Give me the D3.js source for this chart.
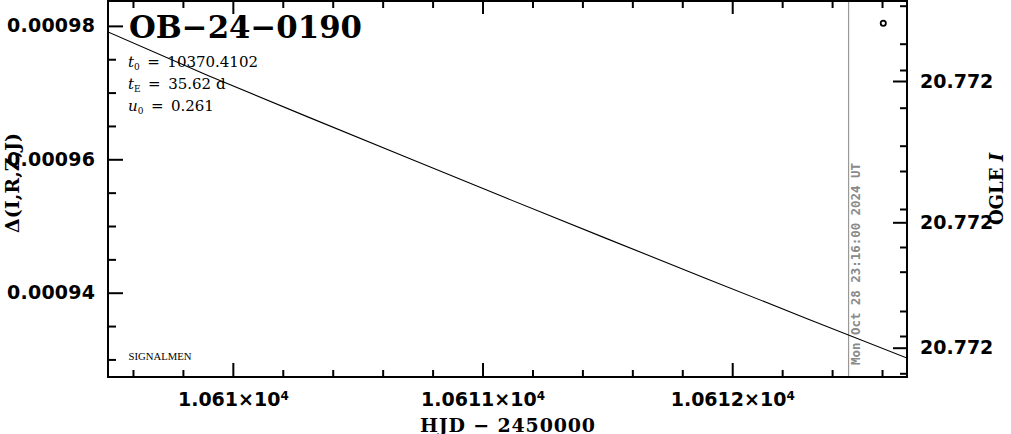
<!DOCTYPE html>
<html>
<head>
<meta charset="utf-8">
<script src="https://cdn.jsdelivr.net/npm/d3@7"></script>
<style>
  html, body { margin: 0; padding: 0; background: #fff; }
  svg { display: block; }
</style>
</head>
<body>
<svg id="chart" width="1011" height="434"></svg>
<script>
// ---------- data ----------
const curveHJD   = [10609.5, 10609.9, 10610.3, 10610.7, 10611.1, 10611.5, 10611.9, 10612.3, 10612.7];
const curveDelta = [0.0009791, 0.00097256, 0.00096636, 0.00096022, 0.00095412, 0.00094807, 0.00094207, 0.00093611, 0.0009302];

const oglePointHJD = [10612.605];
const oglePointMag = [20.7715223];

const xDomain = [10609.5, 10612.7];
const yDomain = [0.000927365, 0.00098373];
const magDomain = [20.7715, 20.771876];

const xMajorTicks = [10610, 10611, 10612];
const yMajorTicks = [0.00094, 0.00096, 0.00098];
const magMajorTicks = [20.77158, 20.7717213, 20.7718467];
const magMinorTicks = [20.7715047, 20.7715427, 20.771569, 20.7716067, 20.7716447, 20.77167,
                       20.771708, 20.771746, 20.7717707, 20.77181, 20.771835, 20.7718723];

const nowHJD = 10612.466;
const nowLabel = "Mon Oct 28 23:16:00 2024 UT";
const eventName = "OB\u221224\u22120190";
const paramNames = ["t", "t", "u"];
const paramSubs = ["0", "E", "0"];
const paramValues = ["10370.4102", "35.62 d", "0.261"];
const xLabel = "HJD \u2212 2450000";
const yLabel = "\u0394(I,R,Z,J)";
const yRightLabel = ["OGLE ", "I"];
const footLabel = "SIGNALMEN";

// ---------- layout ----------
const L = 108, R = 907, T = 1, B = 377;
const svg = d3.select("#chart");

const x = d3.scaleLinear().domain(xDomain).range([L, R]);
const y = d3.scaleLinear().domain(yDomain).range([B, T]);
const yR = d3.scaleLinear().domain(magDomain).range([T, B]);

const xMinorTicks = d3.range(10609.6, 10612.65, 0.2).filter(v => Math.abs(v - Math.round(v)) > 1e-6);
const yMinorTicks = d3.range(0.00093, 0.000984, 0.000005).filter(v => yMajorTicks.every(m => Math.abs(m - v) > 1e-9));

const tickFont = "'DejaVu Sans', sans-serif";

function styleAxis(g) {
  g.select(".domain").remove();
  g.selectAll(".tick line").attr("stroke", "#000").attr("stroke-width", 2);
  g.selectAll(".tick text").attr("fill", "#000")
    .attr("font-family", tickFont).attr("font-weight", "bold").attr("font-size", "19px");
}

// clip
svg.append("defs").append("clipPath").attr("id", "clip")
  .append("rect").attr("x", L).attr("y", T).attr("width", R - L).attr("height", B - T);

// now line
svg.append("line")
  .attr("x1", x(nowHJD)).attr("x2", x(nowHJD)).attr("y1", T).attr("y2", B)
  .attr("stroke", "#999").attr("stroke-width", 1.2);
svg.append("text")
  .attr("transform", `translate(${x(nowHJD) + 11},365) rotate(-90)`)
  .attr("font-family", "'DejaVu Sans Mono', monospace").attr("font-weight", "bold")
  .attr("font-size", "12.5px").attr("fill", "#8a8a8a")
  .attr("textLength", 202).attr("lengthAdjust", "spacingAndGlyphs")
  .text(nowLabel);

// curve
const line = d3.line().x((d, i) => x(curveHJD[i])).y(d => y(d));
svg.append("path").datum(curveDelta)
  .attr("clip-path", "url(#clip)")
  .attr("d", line).attr("fill", "none").attr("stroke", "#000").attr("stroke-width", 1.1);

// OGLE point
svg.selectAll("circle.ogle").data(oglePointHJD).enter().append("circle")
  .attr("class", "ogle")
  .attr("cx", d => x(d)).attr("cy", (d, i) => yR(oglePointMag[i])).attr("r", 2.6)
  .attr("fill", "#fff").attr("stroke", "#000").attr("stroke-width", 1.8);

// axes bottom
const fmtMant = d3.format(".4~f");
svg.append("g").attr("transform", `translate(0,${B})`)
  .call(d3.axisBottom(x).tickValues(xMinorTicks).tickSize(-7).tickFormat(""))
  .call(styleAxis);
const gxb = svg.append("g").attr("transform", `translate(0,${B})`)
  .call(d3.axisBottom(x).tickValues(xMajorTicks).tickSize(-14).tickPadding(16)
        .tickFormat(d => fmtMant(d / 1e4)))
  .call(styleAxis);
gxb.selectAll(".tick text").each(function (d) {
  const t = d3.select(this);
  t.text(null);
  t.append("tspan").text(fmtMant(d / 1e4) + "\u00d710");
  t.append("tspan").attr("dy", "-0.5em").attr("font-size", "12px").text("4");
});

// axes top
svg.append("g").attr("transform", `translate(0,${T})`)
  .call(d3.axisTop(x).tickValues(xMinorTicks).tickSize(-7).tickFormat(""))
  .call(styleAxis);
svg.append("g").attr("transform", `translate(0,${T})`)
  .call(d3.axisTop(x).tickValues(xMajorTicks).tickSize(-13).tickFormat(""))
  .call(styleAxis);

// left axis
svg.append("g").attr("transform", `translate(${L},0)`)
  .call(d3.axisLeft(y).tickValues(yMinorTicks).tickSize(-8).tickFormat(""))
  .call(styleAxis);
svg.append("g").attr("transform", `translate(${L},0)`)
  .call(d3.axisLeft(y).tickValues(yMajorTicks).tickSize(-15).tickPadding(13)
        .tickFormat(d3.format(".5f")))
  .call(styleAxis)
  .call(g => g.selectAll(".tick text").attr("textLength", 88).attr("lengthAdjust", "spacing"));

// right axis
svg.append("g").attr("transform", `translate(${R},0)`)
  .call(d3.axisRight(yR).tickValues(magMinorTicks).tickSize(-7).tickFormat(""))
  .call(styleAxis);
svg.append("g").attr("transform", `translate(${R},0)`)
  .call(d3.axisRight(yR).tickValues(magMajorTicks).tickSize(-14).tickPadding(13)
        .tickFormat(d3.format(".3f")))
  .call(styleAxis);

// frame
svg.append("rect").attr("x", L).attr("y", T).attr("width", R - L).attr("height", B - T)
  .attr("fill", "none").attr("stroke", "#000").attr("stroke-width", 2);

// title
svg.append("text").attr("x", 129).attr("y", 37.5)
  .attr("font-family", "'DejaVu Serif', serif").attr("font-weight", "bold").attr("font-size", "31px")
  .attr("textLength", 233).attr("lengthAdjust", "spacingAndGlyphs")
  .attr("fill", "#000").text(eventName);

// parameters
const serif = "'DejaVu Serif', serif";
paramNames.forEach((n, i) => {
  const t = svg.append("text").attr("x", 128).attr("y", 66.5 + i * 22.3)
    .attr("font-family", serif).attr("font-size", "15px").attr("fill", "#000");
  t.append("tspan").attr("font-style", "italic").text(n);
  t.append("tspan").attr("font-size", "9px").attr("dy", "3").text(paramSubs[i]);
  t.append("tspan").attr("dy", "-3").text("\u2002=\u2002" + paramValues[i]);
});

// footer
svg.append("text").attr("x", 128.5).attr("y", 359.5)
  .attr("font-family", "'Liberation Serif', serif").attr("font-size", "11px")
  .attr("textLength", 63).attr("lengthAdjust", "spacingAndGlyphs")
  .attr("fill", "#000").text(footLabel);

// x label
svg.append("text").attr("x", (L + R) / 2).attr("y", 431.5).attr("text-anchor", "middle")
  .attr("font-family", serif).attr("font-weight", "bold").attr("font-size", "19px")
  .attr("textLength", 175).attr("lengthAdjust", "spacing")
  .attr("fill", "#000").text(xLabel);

// left y label
svg.append("text").attr("transform", "translate(19,183) rotate(-90)").attr("text-anchor", "middle")
  .attr("font-family", serif).attr("font-weight", "bold").attr("font-size", "18px")
  .attr("textLength", 100).attr("lengthAdjust", "spacingAndGlyphs")
  .attr("fill", "#000").text(yLabel);

// right y label
const rl = svg.append("text").attr("transform", "translate(1003,189) rotate(-90)").attr("text-anchor", "middle")
  .attr("font-family", serif).attr("font-weight", "bold").attr("font-size", "18px")
  .attr("fill", "#000");
rl.append("tspan").text(yRightLabel[0]);
rl.append("tspan").attr("font-style", "italic").text(yRightLabel[1]);
</script>
</body>
</html>
